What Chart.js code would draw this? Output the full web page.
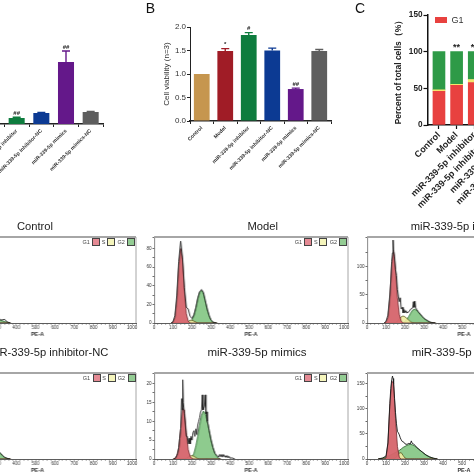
<!DOCTYPE html>
<html>
<head>
<meta charset="utf-8">
<title>miR-339-5p</title>
<script src="https://cdn.jsdelivr.net/npm/chart.js@4"></script>
<style>
    html, body { margin: 0; padding: 0; background: #fff; }
    #page { position: relative; width: 474px; height: 474px; overflow: hidden; font-family: "Liberation Sans", Arial, sans-serif; filter: blur(0.35px); }
    canvas { position: absolute; }
    .txt { position: absolute; white-space: nowrap; color: #222; transform: translate(-50%, -50%); }
    .box { position: absolute; box-sizing: border-box; }
</style>
</head>
<body>
<div id="page"></div>
<script>
const GROUPS = ["Control", "Model", "miR-339-5p inhibitor", "miR-339-5p inhibitor-NC", "miR-339-5p mimics", "miR-339-5p mimics-NC"];
const BAR_COLORS = ["#C6964F", "#A01C26", "#0E7C3E", "#0C3A93", "#64188A", "#5E5E5E"];

// panel A, relative units (first two bars are off the page)
const exprValues = [1, 0.3, 0.6, 1.1, 6.2, 1.2];
const exprErrors = [0, 0.05, 0.08, 0.05, 1.1, 0.05];
const exprMarks = ["", "", "##", "", "##", ""];

// panel B
const viabilityValues = [1.0, 1.49, 1.83, 1.5, 0.68, 1.49];
const viabilityErrors = [0, 0.05, 0.05, 0.05, 0.02, 0.03];
const viabilityMarks = ["", "*", "#", "", "##", ""];
const viabilityTicks = [0, 0.5, 1, 1.5, 2];

// panel C
const cycleG1 = [46, 54, 58, 50, 44, 49];
const cycleS = [2, 1.5, 4, 3, 3, 3];
const cycleG2 = [52, 44.5, 38, 47, 53, 48];
const cycleMarks = ["", "**", "**", "", "**", ""];

// flow histograms
const controlBins = [300, 310, 320, 330, 340, 350, 360, 370];
const controlG1 = [0, 0, 0, 0, 0, 0, 0, 0];
const controlS = [0, 0, 0, 0, 0, 0, 0, 0];
const controlG2 = [6, 4, 3, 2.4, 1.6, 1, 0.4, 0];
const controlHist = [7, 5, 3.5, 3.8, 4.2, 1.8, 0.5, 0];

const modelBins = [90, 100, 110, 120, 130, 140, 150, 160, 170, 180, 190, 200, 210, 220, 230, 240, 250, 260, 270, 280, 290, 300, 310, 320, 330];
const modelG1 = [0, 1, 6, 25, 62, 80, 68, 34, 10, 2, 0, 0, 0, 0, 0, 0, 0, 0, 0, 0, 0, 0, 0, 0, 0];
const modelS = [0, 0, 0, 0, 0, 0, 0, 0, 0.5, 1.5, 3, 3, 2, 1, 0, 0, 0, 0, 0, 0, 0, 0, 0, 0, 0];
const modelG2 = [0, 0, 0, 0, 0, 0, 0, 0, 0, 0.5, 1, 3, 8, 16, 26, 33, 35, 31, 23, 14, 7, 3, 1, 0, 0];
const modelHist = [0, 1.5, 8, 30, 66, 88, 70, 38, 17, 15, 7, 5, 9, 17, 27, 34, 36, 33, 24, 15, 8, 3, 1, 0.5, 0];

const inhibitorBins = [90, 100, 110, 120, 130, 140, 150, 160, 170, 180, 190, 200, 210, 220, 230, 240, 250, 260, 270, 280, 290, 300, 310, 320, 330, 340, 350, 360];
const inhibitorG1 = [0, 2, 10, 45, 105, 130, 95, 45, 15, 3, 0, 0, 0, 0, 0, 0, 0, 0, 0, 0, 0, 0, 0, 0, 0, 0, 0, 0];
const inhibitorS = [0, 0, 0, 0, 0, 0, 1, 3, 7, 11, 12.5, 11, 8, 5, 2, 0.5, 0, 0, 0, 0, 0, 0, 0, 0, 0, 0, 0, 0];
const inhibitorG2 = [0, 0, 0, 0, 0, 0, 0, 0, 0, 0, 1, 3, 7, 12, 18, 23, 24.5, 23, 19, 15, 11, 8, 5, 3, 1.5, 0.5, 0, 0];
const inhibitorHistX = [90, 100, 110, 120, 125, 130, 134, 137, 140, 145, 150, 155, 160, 165, 170, 175, 180, 185, 190, 195, 200, 205, 210, 220, 230, 240, 244, 248, 252, 256, 262, 270, 280, 290, 300, 310, 320, 330, 340, 350, 360];
const inhibitorHist = [0, 3, 14, 50, 75, 110, 125, 148, 128, 118, 95, 85, 60, 48, 38, 45, 25, 28, 18, 24, 18, 22, 18, 20, 25, 27, 38, 28, 39, 27, 24, 20, 16, 12, 8, 6, 4, 2, 1, 0.5, 0];

const inhibitorNcBins = [300, 310, 320, 330, 340, 350, 360, 370];
const inhibitorNcG1 = [0, 0, 0, 0, 0, 0, 0, 0];
const inhibitorNcS = [0, 0, 0, 0, 0, 0, 0, 0];
const inhibitorNcG2 = [9, 8, 6, 3.5, 1.8, 0.8, 0.3, 0];
const inhibitorNcHist = [10, 8.5, 6.5, 4, 2, 1, 0.3, 0];

const mimicsBins = [100, 110, 120, 130, 140, 150, 160, 170, 180, 190, 200, 210, 220, 230, 240, 250, 260, 270, 280, 290, 300, 310, 320, 330, 340, 350];
const mimicsG1 = [0, 0.2, 1, 3, 8, 13.5, 13, 7, 2.5, 0.7, 0.1, 0, 0, 0, 0, 0, 0, 0, 0, 0, 0, 0, 0, 0, 0, 0];
const mimicsS = [0, 0, 0, 0, 0, 0, 0, 0.2, 0.5, 0.8, 0.9, 0.7, 0.4, 0.1, 0, 0, 0, 0, 0, 0, 0, 0, 0, 0, 0, 0];
const mimicsG2 = [0, 0, 0, 0, 0, 0, 0, 0, 0, 0, 0.5, 1.5, 3.5, 6, 9, 11.5, 12.7, 12, 10, 7.5, 5, 3, 1.5, 0.6, 0.2, 0];
const mimicsHistX = [105, 115, 125, 130, 135, 140, 145, 148, 151, 154, 157, 160, 165, 170, 175, 180, 185, 190, 195, 200, 205, 210, 215, 220, 225, 230, 235, 240, 245, 250, 254, 258, 262, 266, 270, 273, 276, 280, 285, 290, 300, 310, 320, 330, 340, 345, 350, 355, 360, 365, 370, 375, 380, 385, 390, 395, 400, 410, 425];
const mimicsHist = [0, 0.3, 1.5, 3, 5.5, 8, 16, 13, 21, 15, 15, 12, 9, 6, 6, 4, 5.5, 4, 6, 5, 7, 7.5, 6, 8, 6.5, 9, 10, 11, 12.5, 13, 17, 13, 13.5, 14, 17, 12, 12.5, 10, 9, 7.5, 5, 3, 1.5, 1, 0.5, 1.2, 0.6, 1.2, 0.5, 1.2, 0.6, 0.9, 0.4, 0.9, 0.3, 0.7, 0.2, 0.3, 0];

const mimicsNcBins = [60, 70, 80, 90, 100, 110, 120, 130, 140, 150, 160, 170, 180, 190, 200, 210, 220, 230, 240, 250, 260, 270, 280, 290, 300, 310, 320, 330, 340, 350, 360, 370];
const mimicsNcG1 = [0, 0, 0, 0, 2, 30, 105, 155, 150, 80, 25, 3, 0, 0, 0, 0, 0, 0, 0, 0, 0, 0, 0, 0, 0, 0, 0, 0, 0, 0, 0, 0];
const mimicsNcS = [0, 0, 0, 0, 0, 0, 0, 0, 0, 2, 7, 12, 12.5, 7, 2, 0, 0, 0, 0, 0, 0, 0, 0, 0, 0, 0, 0, 0, 0, 0, 0, 0];
const mimicsNcG2 = [0.5, 1, 1.5, 2.5, 4, 5.5, 7, 9, 11, 13, 15, 17, 20, 23, 25, 27, 28.5, 29, 28, 26, 23, 20, 17, 14, 11, 8, 6, 4, 2.5, 1.5, 0.7, 0];
const mimicsNcHistX = [60, 80, 100, 110, 120, 125, 130, 134, 137, 140, 145, 150, 155, 160, 165, 170, 175, 180, 185, 190, 195, 200, 210, 220, 228, 233, 238, 245, 255, 270, 290, 310, 330, 350, 370];
const mimicsNcHist = [0.5, 1.5, 6, 32, 110, 140, 158, 165, 160, 150, 120, 92, 70, 55, 52, 48, 42, 38, 35, 34, 33, 30, 29, 31, 30, 36, 31, 30, 26, 20, 14, 8, 4, 1.5, 0];

Chart.defaults.font.family = '"Liberation Sans", Arial, sans-serif';
Chart.defaults.animation = false;

const page = document.getElementById("page");

function addText(text, x, y, size, extra) {
    const el = document.createElement("div");
    el.className = "txt";
    el.textContent = text;
    el.style.cssText = "left:" + x + "px;top:" + y + "px;font-size:" + size + "px;" + (extra || "");
    page.appendChild(el);
}

function addBox(x, y, w, h, color, border) {
    const el = document.createElement("div");
    el.className = "box";
    el.style.cssText = "left:" + x + "px;top:" + y + "px;width:" + w + "px;height:" + h + "px;background:" + color + ";" + (border ? "border:1px solid " + border + ";" : "");
    page.appendChild(el);
}

function addCanvas(left, top, width, height) {
    const c = document.createElement("canvas");
    c.width = width;
    c.height = height;
    c.style.left = left + "px";
    c.style.top = top + "px";
    c.style.width = width + "px";
    c.style.height = height + "px";
    page.appendChild(c);
    return c.getContext("2d");
}

// whiskers and significance marks above the bars
const barExtras = {
    id: "barExtras",
    afterDatasetsDraw(chart, args, opts) {
        const ctx = chart.ctx;
        const meta = chart.getDatasetMeta(chart.data.datasets.length - 1);
        const y = chart.scales.y;
        ctx.save();
        meta.data.forEach((bar, i) => {
            let top = bar.y;
            if (opts.errors && opts.errors[i] > 0) {
                top = y.getPixelForValue(opts.values[i] + opts.errors[i]);
                ctx.strokeStyle = BAR_COLORS[i];
                ctx.lineWidth = 1.4;
                ctx.beginPath();
                ctx.moveTo(bar.x, bar.y);
                ctx.lineTo(bar.x, top);
                ctx.moveTo(bar.x - 4, top);
                ctx.lineTo(bar.x + 4, top);
                ctx.stroke();
            }
            if (opts.marks[i]) {
                ctx.fillStyle = "#222";
                ctx.font = opts.markFont;
                ctx.textAlign = "center";
                ctx.textBaseline = "middle";
                ctx.fillText(opts.marks[i], bar.x, top - opts.markGap);
            }
        });
        ctx.restore();
    }
};

// gray frame of the flow plots
const histFrame = {
    id: "histFrame",
    afterDraw(chart) {
        const a = chart.chartArea;
        const ctx = chart.ctx;
        ctx.save();
        ctx.strokeStyle = "#A6A6A6";
        ctx.lineWidth = 1;
        ctx.beginPath();
        ctx.moveTo(a.right, a.top);
        ctx.lineTo(a.right, a.bottom);
        ctx.stroke();
        ctx.lineWidth = 2;
        ctx.beginPath();
        ctx.moveTo(a.left, a.top);
        ctx.lineTo(a.right, a.top);
        ctx.stroke();
        ctx.restore();
    }
};

function viabilityChart() {
    const L = 189.5, R = 330.5, T = 27, B = 121.3;
    const ctx = addCanvas(L - 28, T - 6, R - L + 28 + 6, B - T + 6 + 75);
    new Chart(ctx, {
        type: "bar",
        data: { labels: GROUPS, datasets: [{ data: viabilityValues, backgroundColor: BAR_COLORS, categoryPercentage: 1, barPercentage: 0.67 }] },
        options: {
            responsive: false,
            layout: { padding: { top: 6, right: 6 } },
            plugins: {
                legend: { display: false },
                tooltip: { enabled: false },
                barExtras: { values: viabilityValues, errors: viabilityErrors, marks: viabilityMarks, markFont: "bold 6px 'Liberation Sans'", markGap: 4 }
            },
            scales: {
                x: {
                    afterFit: ax => { ax.height = 75; },
                    grid: { drawOnChartArea: false, tickLength: 3, tickColor: "#222", tickWidth: 1 },
                    border: { color: "#222", width: 1.5 },
                    ticks: { autoSkip: false, minRotation: 45, maxRotation: 45, padding: 1, color: "#333", font: { size: 5.2, weight: "bold" } }
                },
                y: {
                    min: 0, max: 2,
                    afterFit: ax => { ax.width = 28; },
                    afterBuildTicks: ax => { ax.ticks = viabilityTicks.map(v => ({ value: v })); },
                    grid: { drawOnChartArea: false, tickLength: 3, tickColor: "#222" },
                    border: { color: "#222", width: 1 },
                    title: { display: true, text: "Cell viability (n=3)", color: "#333", padding: 0, font: { size: 8 } },
                    ticks: { padding: 1, color: "#333", font: { size: 8 }, callback: v => v.toFixed(1) }
                }
            }
        },
        plugins: [barExtras]
    });
}

function exprChart() {
    const L = -44.8, R = 103.4, T = 14, B = 124;
    const ctx = addCanvas(L - 6, T - 4, R - L + 12, B - T + 4 + 75);
    new Chart(ctx, {
        type: "bar",
        data: { labels: GROUPS, datasets: [{ data: exprValues, backgroundColor: BAR_COLORS, categoryPercentage: 1, barPercentage: 0.65 }] },
        options: {
            responsive: false,
            layout: { padding: { left: 6, top: 4, right: 6 } },
            plugins: {
                legend: { display: false },
                tooltip: { enabled: false },
                barExtras: { values: exprValues, errors: exprErrors, marks: exprMarks, markFont: "bold 6px 'Liberation Sans'", markGap: 4 }
            },
            scales: {
                x: {
                    afterFit: ax => { ax.height = 75; },
                    grid: { drawOnChartArea: false, tickLength: 3, tickColor: "#222" },
                    border: { color: "#222", width: 1.5 },
                    ticks: { autoSkip: false, minRotation: 45, maxRotation: 45, padding: 1, color: "#333", font: { size: 5.2, weight: "bold" } }
                },
                y: { min: 0, max: 11, display: false }
            }
        },
        plugins: [barExtras]
    });
}

function cycleChart() {
    const L = 427.5, R = 536, T = 14.7, B = 124.7;
    const ctx = addCanvas(L - 33.5, T - 6, R - L + 33.5 + 6, B - T + 6 + 100);
    const series = arr => arr.map((v, i) => ({ x: i, y: v }));
    new Chart(ctx, {
        type: "bar",
        data: {
            datasets: [
                { data: series(cycleG1), backgroundColor: "#E8413F", barThickness: 12 },
                { data: series(cycleS), backgroundColor: "#F4E66C", barThickness: 12 },
                { data: series(cycleG2), backgroundColor: "#2E9A47", barThickness: 12 }
            ]
        },
        options: {
            responsive: false,
            layout: { padding: { top: 6, right: 6 } },
            plugins: {
                legend: { display: false },
                tooltip: { enabled: false },
                barExtras: { marks: cycleMarks, markFont: "bold 9px 'Liberation Sans'", markGap: 4 }
            },
            scales: {
                x: {
                    type: "linear", min: -0.65, max: 5.5, offset: false, stacked: true,
                    afterFit: ax => { ax.height = 100; },
                    afterBuildTicks: ax => { ax.ticks = GROUPS.map((_, i) => ({ value: i })); },
                    grid: { drawOnChartArea: false, offset: false, tickLength: 4, tickColor: "#111", tickWidth: 1.2 },
                    border: { color: "#111", width: 1.5 },
                    ticks: { autoSkip: false, minRotation: 45, maxRotation: 45, padding: 1, color: "#222", font: { size: 9, weight: "bold" }, callback: v => GROUPS[v] }
                },
                y: {
                    min: 0, max: 150, stacked: true,
                    afterFit: ax => { ax.width = 33.5; },
                    grid: { drawOnChartArea: false, tickLength: 4, tickColor: "#111", tickWidth: 1.2 },
                    border: { color: "#111", width: 1.5 },
                    title: { display: true, text: "Percent of total cells（%）", color: "#222", padding: 0, font: { size: 8.5, weight: "bold" } },
                    ticks: { stepSize: 50, padding: 1, color: "#222", font: { size: 8.2, weight: "bold" } }
                }
            }
        },
        plugins: [barExtras]
    });
    addBox(435, 17, 12, 5.5, "#E8413F");
    addText("G1", 457.5, 19.8, 9, "color:#333;");
}

function zip(xs, ys) {
    return xs.map((x, i) => ({ x: x, y: ys[i] }));
}

function fitLine(data, fill, line) {
    return { data: data, backgroundColor: fill, borderColor: line, borderWidth: 0.8, fill: "origin", pointRadius: 0, tension: 0 };
}

function histPanel(p) {
    const ctx = addCanvas(p.L - 14, p.T - 6, p.R - p.L + 20, p.B - p.T + 6 + 15);
    new Chart(ctx, {
        type: "line",
        data: {
            datasets: [
                { data: zip(p.histX, p.hist), borderColor: "#1A1A1A", borderWidth: 0.9, pointRadius: 0, fill: false, tension: 0 },
                fitLine(zip(p.bins, p.g1), "rgba(214,100,108,0.95)", "#6E2A2E"),
                fitLine(zip(p.bins, p.s), "rgba(240,236,160,0.9)", "#5A5A20"),
                fitLine(zip(p.bins, p.g2), "rgba(136,200,136,0.95)", "#1F5F24")
            ]
        },
        options: {
            responsive: false,
            layout: { padding: { top: 6, right: 6 } },
            plugins: { legend: { display: false }, tooltip: { enabled: false } },
            scales: {
                x: {
                    type: "linear", min: 0, max: 1020,
                    afterFit: ax => { ax.height = 15; },
                    grid: { drawOnChartArea: false, tickLength: 1.5, tickColor: "#222", tickWidth: 0.7 },
                    border: { color: "#333", width: 0.8 },
                    title: { display: true, text: "PE-A", color: "#333", padding: 0, font: { size: 5.5, weight: "bold" } },
                    ticks: {
                        stepSize: 20, autoSkip: false, maxRotation: 0, padding: 0, color: "#333", font: { size: 4.6 },
                        callback: v => (v % 100 === 0 ? v : "")
                    }
                },
                y: {
                    min: 0, max: p.ymax,
                    afterFit: ax => { ax.width = 14; },
                    grid: { drawOnChartArea: false, tickLength: 1.5, tickColor: "#222", tickWidth: 0.7 },
                    border: { color: "#555", width: 0.7 },
                    ticks: {
                        stepSize: p.labelStep / 2, autoSkip: false, padding: 1, color: "#333", font: { size: 4.6 },
                        callback: v => (v % p.labelStep === 0 ? v : "")
                    }
                }
            }
        },
        plugins: [histFrame]
    });
    // legend, placed from the right edge of the frame
    const y = p.T + 1.5;
    addText("G1", p.R - 49.5, y + 4, 5.5, "color:#444;");
    addBox(p.R - 43.5, y, 8, 8, "#E58A94", "#444");
    addText("S", p.R - 32, y + 4, 5.5, "color:#444;");
    addBox(p.R - 28.5, y, 8, 8, "#F5F5BC", "#444");
    addText("G2", p.R - 14.5, y + 4, 5.5, "color:#444;");
    addBox(p.R - 8.5, y, 8, 8, "#93CC93", "#444");
}

addText("B", 150.5, 7.5, 14, "color:#111;");
addText("C", 360, 7.5, 14, "color:#111;");

exprChart();
viabilityChart();
cycleChart();

const ROW1 = { T: 236.7, B: 322.7 };
const ROW2 = { T: 372.7, B: 458.7 };

histPanel({ L: -60.8, R: 135.7, T: ROW1.T, B: ROW1.B, ymax: 100, labelStep: 20, bins: controlBins, g1: controlG1, s: controlS, g2: controlG2, histX: controlBins, hist: controlHist });
histPanel({ L: 154, R: 347.8, T: ROW1.T, B: ROW1.B, ymax: 92.5, labelStep: 20, bins: modelBins, g1: modelG1, s: modelS, g2: modelG2, histX: modelBins, hist: modelHist });
histPanel({ L: 367.3, R: 561, T: ROW1.T, B: ROW1.B, ymax: 153.5, labelStep: 50, bins: inhibitorBins, g1: inhibitorG1, s: inhibitorS, g2: inhibitorG2, histX: inhibitorHistX, hist: inhibitorHist });
histPanel({ L: -60.8, R: 136, T: ROW2.T, B: ROW2.B, ymax: 100, labelStep: 20, bins: inhibitorNcBins, g1: inhibitorNcG1, s: inhibitorNcS, g2: inhibitorNcG2, histX: inhibitorNcBins, hist: inhibitorNcHist });
histPanel({ L: 154, R: 347.8, T: ROW2.T, B: ROW2.B, ymax: 22.8, labelStep: 5, bins: mimicsBins, g1: mimicsG1, s: mimicsS, g2: mimicsG2, histX: mimicsHistX, hist: mimicsHist });
histPanel({ L: 366.7, R: 561, T: ROW2.T, B: ROW2.B, ymax: 171, labelStep: 50, bins: mimicsNcBins, g1: mimicsNcG1, s: mimicsNcS, g2: mimicsNcG2, histX: mimicsNcHistX, hist: mimicsNcHist });

addText("Control", 35, 225.7, 11.2);
addText("Model", 262.7, 225.7, 11.2);
addText("miR-339-5p inhibitor", 410.7, 225.7, 11.2, "transform:translate(0,-50%);");
addText("miR-339-5p inhibitor-NC", 108.3, 352, 11.2, "transform:translate(-100%,-50%);");
addText("miR-339-5p mimics", 257, 352, 11.5);
addText("miR-339-5p mimics-NC", 411.7, 352, 11.5, "transform:translate(0,-50%);");
</script>
</body>
</html>
